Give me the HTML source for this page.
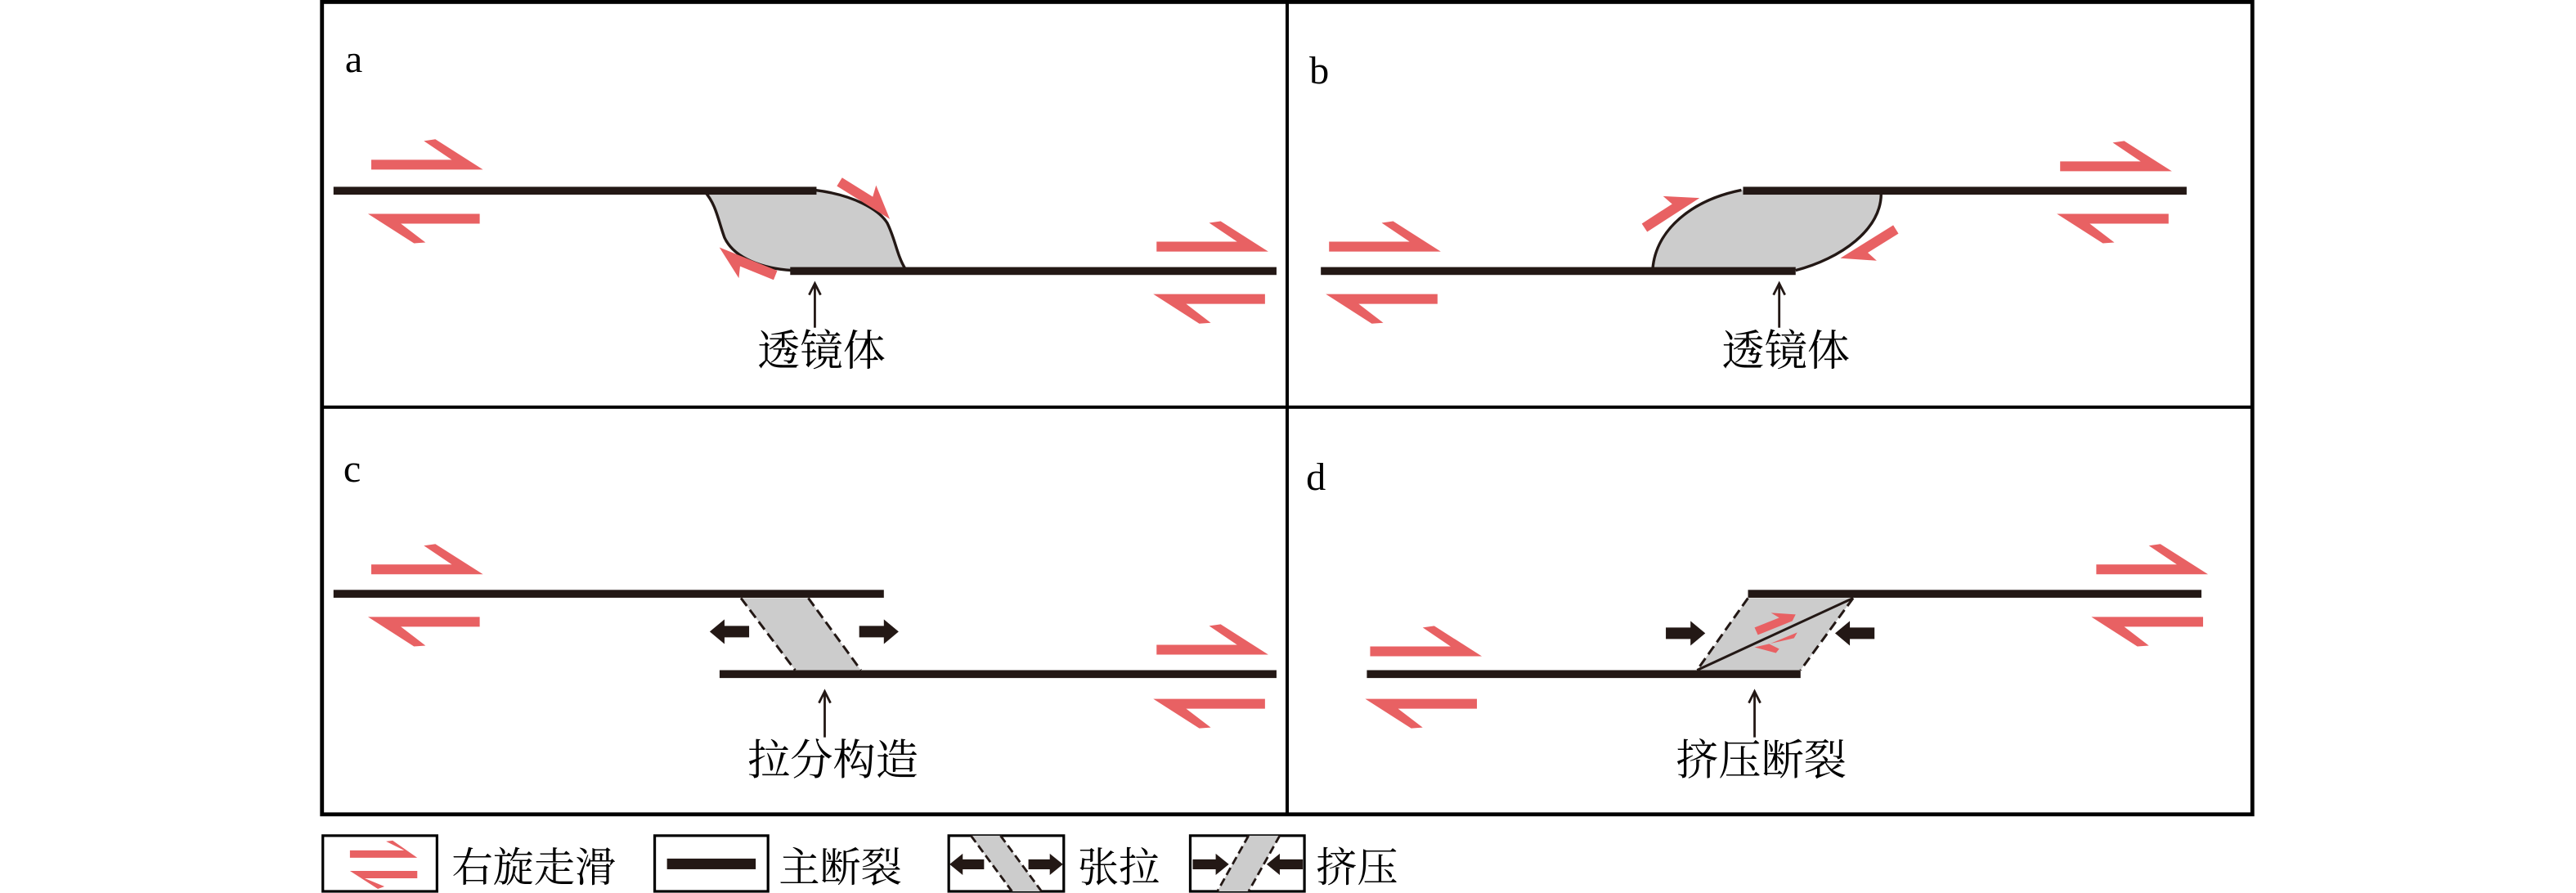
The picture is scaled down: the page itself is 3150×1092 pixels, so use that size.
<!DOCTYPE html>
<html><head><meta charset="utf-8"><style>
html,body{margin:0;padding:0;background:#fff;}
svg{display:block;}
text{font-family:"Liberation Serif","Noto Serif CJK SC",serif;fill:#000;}
</style></head><body>
<svg width="3150" height="1092" viewBox="0 0 1568 545" preserveAspectRatio="none" xmlns="http://www.w3.org/2000/svg">
<defs>
<polygon id="R" points="0,-0.5 49,-0.5 32,-12 39,-13 68,5.5 0,5.5" fill="#e86163"/>
<polygon id="L" points="0,-0.5 68,-0.5 68,5.5 20,5.5 35,17 28,17.5" fill="#e86163"/>
<polygon id="S" points="0,-3 22,-3 20,-10 38,3 0,3" fill="#e86163"/>
<polygon id="BL" points="0,7.5 9,0 9,4 24,4 24,11 9,11 9,15" fill="#231815"/>
<polygon id="BR" points="24,7.5 15,0 15,4 0,4 0,11 15,11 15,15" fill="#231815"/>
</defs>
<rect x="0" y="0" width="1568" height="545" fill="#fff"/>
<!-- frame -->
<rect x="196" y="1.2" width="1175" height="495.8" fill="none" stroke="#000" stroke-width="2.4"/>
<line x1="783.5" y1="1" x2="783.5" y2="497" stroke="#000" stroke-width="2"/>
<line x1="196" y1="248.5" x2="1371" y2="248.5" stroke="#000" stroke-width="2"/>

<!-- panel labels -->
<text x="210" y="44" font-size="24">a</text>
<text x="797" y="51" font-size="24">b</text>
<text x="209" y="294" font-size="24">c</text>
<text x="795" y="299" font-size="24">d</text>

<!-- ===== panel a ===== -->
<path d="M429,117 C436,125 437,134 441,145 C447,158 465,164 482,165 L551,164 C546,156 545,146 540,136 C535,128 520,119 496,116 Z" fill="#cccccc"/>
<path d="M429,117 C436,125 437,134 441,145 C447,158 465,164 482,165" fill="none" stroke="#231815" stroke-width="1.7"/>
<path d="M496,116 C520,119 535,128 540,136 C545,146 546,156 551,164" fill="none" stroke="#231815" stroke-width="1.7"/>
<rect x="203" y="114" width="294" height="4.8" fill="#231815"/>
<rect x="481" y="163" width="296" height="4.8" fill="#231815"/>
<use href="#R" x="226" y="98"/>
<use href="#L" x="224" y="131"/>
<use href="#R" x="704" y="148"/>
<use href="#L" x="702" y="180"/>
<use href="#S" transform="translate(511,111) rotate(32)"/>
<use href="#S" transform="translate(472,168) rotate(202)"/>
<line x1="496" y1="174" x2="496" y2="200" stroke="#231815" stroke-width="1.4"/>
<polyline points="492.5,180 496,173 499.5,180" fill="none" stroke="#231815" stroke-width="1.4"/>
<text x="500" y="223" font-size="26" text-anchor="middle">透镜体</text>

<!-- ===== panel b ===== -->
<path d="M1060,116 C1030,122 1008,140 1006,164 L1093,165 C1120,158 1146,140 1145,117 Z" fill="#cccccc"/>
<path d="M1060,116 C1030,122 1008,140 1006,164" fill="none" stroke="#231815" stroke-width="1.7"/>
<path d="M1145,117 C1146,140 1120,158 1093,165" fill="none" stroke="#231815" stroke-width="1.7"/>
<rect x="1061" y="114" width="270" height="4.8" fill="#231815"/>
<rect x="804" y="163" width="289" height="4.8" fill="#231815"/>
<use href="#R" x="809" y="148"/>
<use href="#L" x="807" y="180"/>
<use href="#R" x="1254" y="99"/>
<use href="#L" x="1252" y="131"/>
<use href="#S" transform="translate(1001,139) rotate(-33)"/>
<use href="#S" transform="translate(1154,140) rotate(148)"/>
<line x1="1083" y1="174" x2="1083" y2="200" stroke="#231815" stroke-width="1.4"/>
<polyline points="1079.5,180 1083,173 1086.5,180" fill="none" stroke="#231815" stroke-width="1.4"/>
<text x="1087" y="223" font-size="26" text-anchor="middle">透镜体</text>

<!-- ===== panel c ===== -->
<polygon points="451,365 492,365 524,409 484,409" fill="#cccccc"/>
<line x1="451" y1="365" x2="484" y2="409" stroke="#231815" stroke-width="1.5" stroke-dasharray="6,3"/>
<line x1="492" y1="365" x2="524" y2="409" stroke="#231815" stroke-width="1.5" stroke-dasharray="6,3"/>
<rect x="203" y="360" width="335" height="4.8" fill="#231815"/>
<rect x="438" y="409" width="339" height="4.8" fill="#231815"/>
<use href="#BL" x="432" y="378"/>
<use href="#BR" x="523" y="378"/>
<use href="#R" x="226" y="345"/>
<use href="#L" x="224" y="377"/>
<use href="#R" x="704" y="394"/>
<use href="#L" x="702" y="427"/>
<line x1="502" y1="423" x2="502" y2="450" stroke="#231815" stroke-width="1.4"/>
<polyline points="498.5,429 502,422 505.5,429" fill="none" stroke="#231815" stroke-width="1.4"/>
<text x="507" y="473" font-size="26" text-anchor="middle">拉分构造</text>

<!-- ===== panel d ===== -->
<polygon points="1064,365 1128,365 1096,409 1033,409" fill="#cccccc"/>
<line x1="1064" y1="365" x2="1033" y2="409" stroke="#231815" stroke-width="1.5" stroke-dasharray="6,3"/>
<line x1="1128" y1="365" x2="1096" y2="409" stroke="#231815" stroke-width="1.5" stroke-dasharray="6,3"/>
<line x1="1033" y1="409" x2="1128" y2="365" stroke="#231815" stroke-width="1.5"/>
<polygon points="1068,383 1083,377 1078,374 1093,375 1091,379 1070,387.5" fill="#e86163"/>
<polygon points="1094,386 1077,393 1083,396 1081,398.5 1068,395 1092,389.5" fill="#e86163"/>
<use href="#BR" x="1014" y="379"/>
<use href="#BL" x="1117" y="379"/>
<rect x="1064" y="360" width="276" height="4.8" fill="#231815"/>
<rect x="832" y="409" width="264" height="4.8" fill="#231815"/>
<use href="#R" x="834" y="395"/>
<use href="#L" x="831" y="427"/>
<use href="#R" x="1276" y="345"/>
<use href="#L" x="1273" y="377"/>
<line x1="1068" y1="423" x2="1068" y2="450" stroke="#231815" stroke-width="1.4"/>
<polyline points="1064.5,429 1068,422 1071.5,429" fill="none" stroke="#231815" stroke-width="1.4"/>
<text x="1072" y="473" font-size="26" text-anchor="middle">挤压断裂</text>

<!-- ===== legend ===== -->
<rect x="196.5" y="510" width="69.5" height="34" fill="none" stroke="#000" stroke-width="1.6"/>
<polygon points="213,519 246,519 235,513.5 239,513 254,523.5 213,523.5" fill="#e86163"/>
<polygon points="213,531.5 254,531.5 254,536 222,536 234,541 230,542.5" fill="#e86163"/>
<text x="275" y="538" font-size="25">右旋走滑</text>

<rect x="398.5" y="510" width="69" height="34" fill="none" stroke="#000" stroke-width="1.6"/>
<rect x="406" y="524" width="54" height="6.5" fill="#231815"/>
<text x="474" y="538" font-size="25">主断裂</text>

<rect x="577.5" y="510" width="70" height="34" fill="none" stroke="#000" stroke-width="1.6"/>
<polygon points="591,510 609,510 634,544 616,544" fill="#cccccc"/>
<line x1="591" y1="510" x2="616" y2="544" stroke="#231815" stroke-width="1.4" stroke-dasharray="5,2.5"/>
<line x1="609" y1="510" x2="634" y2="544" stroke="#231815" stroke-width="1.4" stroke-dasharray="5,2.5"/>
<polygon points="578,527.5 586,521 586,524.5 599,524.5 599,530.5 586,530.5 586,534" fill="#231815"/>
<polygon points="647,527.5 639,521 639,524.5 626,524.5 626,530.5 639,530.5 639,534" fill="#231815"/>
<text x="656" y="538" font-size="25">张拉</text>

<rect x="724.5" y="510" width="69.5" height="34" fill="none" stroke="#000" stroke-width="1.6"/>
<polygon points="760,510 779,510 760,544 741,544" fill="#cccccc"/>
<line x1="760" y1="510" x2="741" y2="544" stroke="#231815" stroke-width="1.4" stroke-dasharray="5,2.5"/>
<line x1="779" y1="510" x2="760" y2="544" stroke="#231815" stroke-width="1.4" stroke-dasharray="5,2.5"/>
<polygon points="748,527.5 740,521 740,524.5 726,524.5 726,530.5 740,530.5 740,534" fill="#231815"/>
<polygon points="771,527.5 779,521 779,524.5 793,524.5 793,530.5 779,530.5 779,534" fill="#231815"/>
<text x="801" y="538" font-size="25">挤压</text>
</svg>
</body></html>
